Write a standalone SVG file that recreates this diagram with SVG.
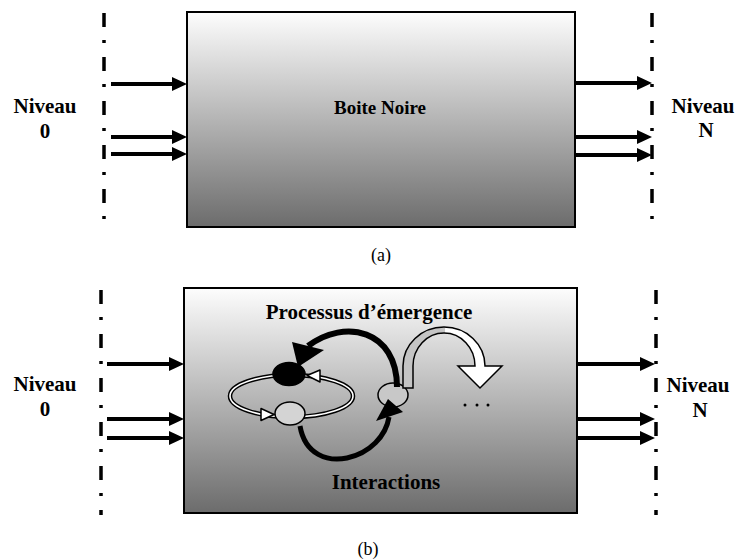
<svg xmlns="http://www.w3.org/2000/svg" width="736" height="560" viewBox="0 0 736 560">
  <defs>
    <linearGradient id="boxShade" x1="0" y1="0" x2="0" y2="1">
      <stop offset="0" stop-color="#fdfdfd"/>
      <stop offset="1" stop-color="#6c6c6c"/>
    </linearGradient>
    <linearGradient id="ribbonShade" x1="0" y1="0" x2="1" y2="0">
      <stop offset="0" stop-color="#c4c4c4"/>
      <stop offset="0.42" stop-color="#c4c4c4"/>
      <stop offset="0.43" stop-color="#ffffff"/>
      <stop offset="1" stop-color="#ffffff"/>
    </linearGradient>
    <marker id="head" markerUnits="userSpaceOnUse" markerWidth="16" markerHeight="14" refX="7" refY="7" orient="auto">
      <path d="M0,0 L15,7 L0,14 Z" fill="#000"/>
    </marker>
  </defs>
  <style>
    .lvl { stroke:#000; stroke-width:3.5; stroke-dasharray:14 13 3 14; fill:none; }
    .flow { stroke:#000; stroke-width:4; marker-end:url(#head); }
    .box { fill:url(#boxShade); stroke:#000; stroke-width:2; }
    .bold { font-family:"Liberation Serif","Times New Roman",serif; font-weight:bold; font-size:21px; fill:#000; }
    .cap { font-family:"Liberation Serif","Times New Roman",serif; font-size:18px; fill:#000; }
    .loop { fill:none; stroke:#000; stroke-width:4.5; }
    .loopGap { fill:none; stroke:#fff; stroke-width:1.6; }
    .tip { fill:#fff; stroke:#000; stroke-width:1.5; stroke-linejoin:round; }
  </style>

  <!-- panel (a) -->
  <g id="a-level0">
    <line class="lvl" x1="104" y1="13" x2="104" y2="222"/>
    <text class="bold" x="45" y="113" text-anchor="middle">Niveau</text>
    <text class="bold" x="45" y="138" text-anchor="middle">0</text>
  </g>
  <g id="a-blackbox">
    <rect class="box" x="187" y="12" width="388" height="215"/>
    <text class="bold" x="380" y="114" text-anchor="middle" style="font-size:19px">Boite Noire</text>
  </g>
  <g id="a-levelN">
    <line class="lvl" x1="652" y1="13" x2="652" y2="222"/>
    <text class="bold" x="703" y="113" text-anchor="middle">Niveau</text>
    <text class="bold" x="706" y="137" text-anchor="middle">N</text>
  </g>
  <g id="a-connectors">
    <line class="flow" x1="111" y1="84" x2="179" y2="84"/>
    <line class="flow" x1="111" y1="137" x2="179" y2="137"/>
    <line class="flow" x1="111" y1="154" x2="179" y2="154"/>
    <line class="flow" x1="576" y1="83" x2="644" y2="83"/>
    <line class="flow" x1="576" y1="137" x2="644" y2="137"/>
    <line class="flow" x1="576" y1="155" x2="644" y2="155"/>
  </g>
  <text class="cap" x="381" y="261" text-anchor="middle">(a)</text>

  <!-- panel (b) -->
  <g id="b-level0">
    <line class="lvl" x1="101" y1="290" x2="101" y2="515"/>
    <text class="bold" x="45" y="391" text-anchor="middle">Niveau</text>
    <text class="bold" x="45" y="416" text-anchor="middle">0</text>
  </g>
  <g id="b-emergence-box">
    <rect class="box" x="184" y="288" width="393" height="225"/>
    <text class="bold" x="369" y="319" text-anchor="middle">Processus d’émergence</text>
    <text class="bold" x="386" y="489" text-anchor="middle">Interactions</text>

    <!-- interaction loop between the two agents -->
    <ellipse class="loop" cx="291.5" cy="396" rx="61.5" ry="21"/>
    <ellipse class="loopGap" cx="291.5" cy="396" rx="61.5" ry="21"/>
    <ellipse cx="289" cy="374" rx="16" ry="11.5" fill="#000" stroke="#000" stroke-width="1.5"/>
    <ellipse cx="290" cy="413.5" rx="15" ry="11.5" fill="#d4d4d4" stroke="#000" stroke-width="1.5"/>
    <polygon class="tip" points="307,375.5 320,370 320,382"/>
    <polygon class="tip" points="274,414.5 261,408.5 261,420.5"/>

    <!-- emergent entity -->
    <ellipse cx="393" cy="395" rx="15" ry="12" fill="#c8c8c8" stroke="#000" stroke-width="1.5"/>

    <!-- feedback arc towards the upper agent -->
    <path d="M397,387 C397,330 345,318 308,346" fill="none" stroke="#000" stroke-width="6"/>
    <polygon points="292,342 324,350 298,367" fill="#000"/>

    <!-- bottom-up interaction arc -->
    <path d="M300,426 C305,455 328,462 347,458 C370,453 386,436 389,417" fill="none" stroke="#000" stroke-width="5"/>
    <polygon points="376,421 403,412 388,399" fill="#000"/>

    <!-- further emergence ribbon arrow -->
    <path d="M403,388 L403,366 A41,39 0 0 1 485,366 L502,366 L480,388 L458,366 L475,366 A31,33 0 0 0 413,366 L413,388 Z" fill="url(#ribbonShade)" stroke="#000" stroke-width="1.5" stroke-linejoin="miter"/>

    <circle cx="465" cy="405" r="1.5" fill="#000"/>
    <circle cx="477" cy="405" r="1.5" fill="#000"/>
    <circle cx="488" cy="405" r="1.5" fill="#000"/>
  </g>
  <g id="b-levelN">
    <line class="lvl" x1="656" y1="290" x2="656" y2="515"/>
    <text class="bold" x="698" y="392" text-anchor="middle">Niveau</text>
    <text class="bold" x="700" y="417" text-anchor="middle">N</text>
  </g>
  <g id="b-connectors">
    <line class="flow" x1="107" y1="364" x2="176" y2="364"/>
    <line class="flow" x1="107" y1="419" x2="176" y2="419"/>
    <line class="flow" x1="107" y1="438" x2="176" y2="438"/>
    <line class="flow" x1="578" y1="364" x2="647" y2="364"/>
    <line class="flow" x1="578" y1="419" x2="647" y2="419"/>
    <line class="flow" x1="578" y1="438" x2="647" y2="438"/>
  </g>
  <text class="cap" x="368" y="555" text-anchor="middle">(b)</text>
</svg>
